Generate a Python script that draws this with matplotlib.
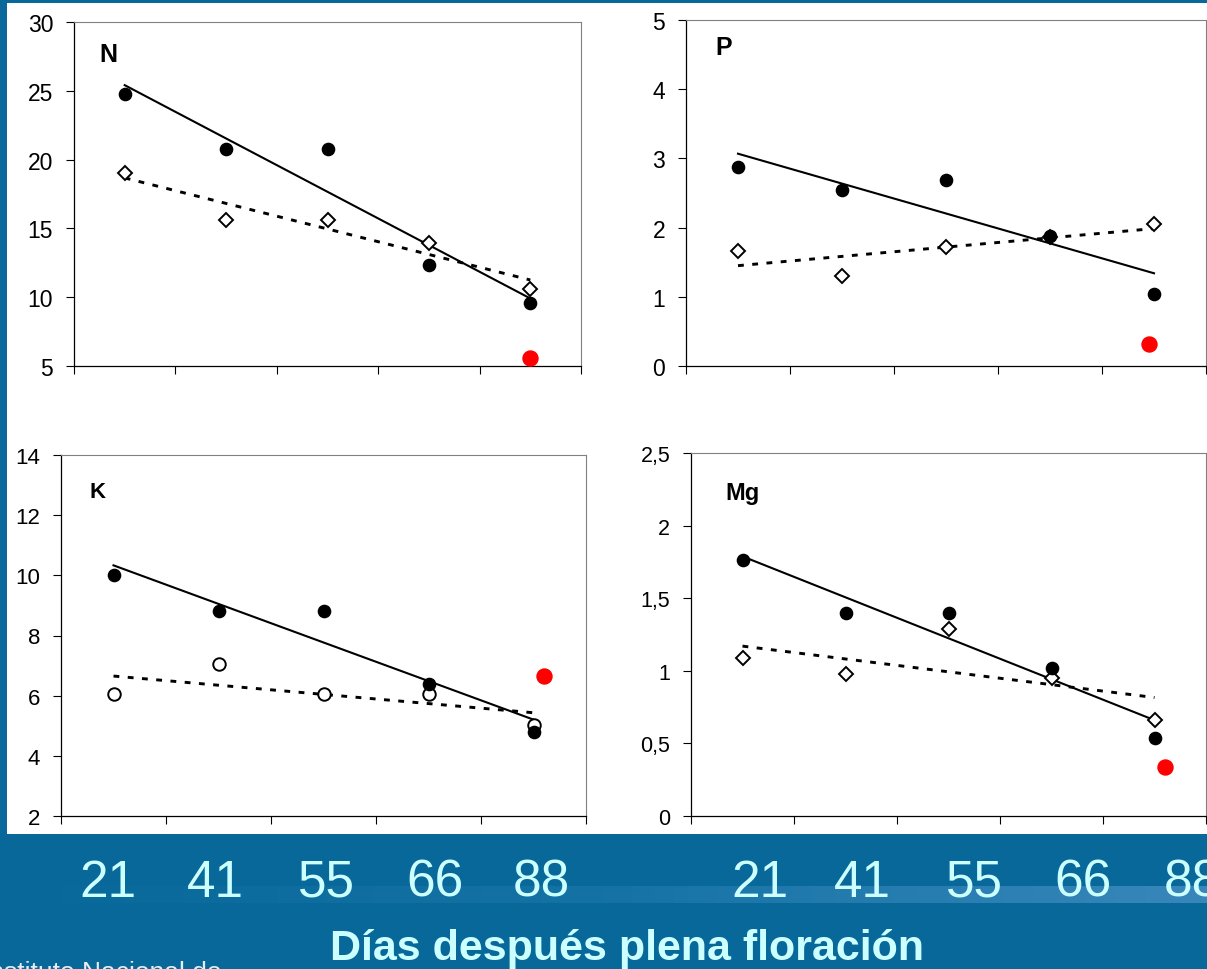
import numpy as np
import matplotlib.pyplot as plt
from matplotlib.patches import Rectangle
from matplotlib.colors import LinearSegmentedColormap
from matplotlib.ticker import FuncFormatter

plt.rcParams['font.family'] = ['Liberation Sans', 'DejaVu Sans']

# datos (5 fechas de muestreo)
dias = ['21', '41', '55', '66', '88']
titulo_x = 'Días después plena floración'

n_negro = [24.75, 20.8, 20.8, 12.35, 9.6]
n_blanco = [19.05, 15.6, 15.6, 13.95, 10.6]
n_rojo = 5.55

p_negro = [2.87, 2.54, 2.69, 1.88, 1.04]
p_blanco = [1.66, 1.30, 1.72, 1.86, 2.05]
p_rojo = 0.32

k_negro = [10.0, 8.82, 8.82, 6.4, 4.8]
k_blanco = [6.05, 7.04, 6.05, 6.05, 5.02]
k_rojo = 6.65

mg_negro = [1.76, 1.40, 1.40, 1.02, 0.54]
mg_blanco = [1.09, 0.975, 1.29, 0.95, 0.66]
mg_rojo = 0.335

rojo_x = [5.0, 4.95, 5.1, 5.1]

W, H = 1207, 970
azul = '#08689A'
cian = '#CCFFFF'

fig = plt.figure(figsize=(W / 100, H / 100), dpi=100)
fig.patch.set_facecolor(azul)

# franja clara detras de los numeros
ax_f = fig.add_axes([0, (H - 904) / H, 1, 17 / H], zorder=-2)
grad = np.linspace(0, 1, 256).reshape(1, -1)
cmap_f = LinearSegmentedColormap.from_list('franja', [azul, '#1572A5', '#3887BA'])
ax_f.imshow(grad, aspect='auto', cmap=cmap_f, extent=[0, 1, 0, 1])
ax_f.axis('off')

# fondo blanco de los graficos
fig.add_artist(Rectangle((7 / W, (H - 835) / H), 1 - 7 / W, (835 - 4) / H,
                         transform=fig.transFigure, facecolor='white',
                         edgecolor='none', zorder=-1))

fmt = FuncFormatter(lambda v, p: f'{v:g}'.replace('.', ','))
x = np.arange(1, 6)


def panel(rect, negro, blanco, marca, rx, ry, ylim, paso, etiqueta, lpos, lsize, tsize):
    ax = fig.add_axes(rect)
    ax.set_facecolor('white')
    for yy, estilo in [(negro, '-'), (blanco, 'dotted')]:
        m, b = np.polyfit(x, yy, 1)
        if estilo == '-':
            ax.plot(x, m * x + b, color='black', lw=1.5, zorder=2)
        else:
            ax.plot(x, m * x + b, color='black', lw=2.1, linestyle=(0, (2.0, 2.9)), zorder=2)
    ms = 7.6 if marca == 'D' else 9.0
    ax.plot(x, blanco, linestyle='none', marker=marca, ms=ms, mfc='white',
            mec='black', mew=1.4, zorder=3, clip_on=False)
    ax.plot(x, negro, linestyle='none', marker='o', ms=8.8, mfc='black',
            mec='black', zorder=4, clip_on=False)
    ax.plot([rx], [ry], linestyle='none', marker='o', ms=10.8, mfc='#FF0000',
            mec='#FF0000', zorder=5, clip_on=False)
    ax.set_xlim(0.5, 5.5)
    ax.set_ylim(*ylim)
    ax.set_xticks(np.arange(0.5, 6, 1))
    ax.set_yticks(np.arange(ylim[0], ylim[1] + paso / 2, paso))
    ax.yaxis.set_major_formatter(fmt)
    ax.tick_params(axis='x', direction='out', length=6, width=0.8, labelbottom=False)
    ax.tick_params(axis='y', direction='out', length=6, width=0.8, pad=9, labelsize=tsize)
    for s in ['top', 'right']:
        ax.spines[s].set_color('#808080')
        ax.spines[s].set_linewidth(0.8)
    for s in ['left', 'bottom']:
        ax.spines[s].set_color('black')
        ax.spines[s].set_linewidth(0.9)
    ax.text(lpos[0], lpos[1], etiqueta, transform=ax.transAxes, fontsize=lsize,
            fontweight='bold', ha='left', va='baseline')
    return ax


panel([74 / W, (H - 367) / H, 507 / W, 344 / H], n_negro, n_blanco, 'D',
      rojo_x[0], n_rojo, (5, 30), 5, 'N', (0.050, 0.886), 18, 16.5)
panel([686 / W, (H - 367) / H, 520 / W, 346 / H], p_negro, p_blanco, 'D',
      rojo_x[1], p_rojo, (0, 5), 1, 'P', (0.056, 0.902), 18, 16.5)
panel([61 / W, (H - 817) / H, 525 / W, 361 / H], k_negro, k_blanco, 'o',
      rojo_x[2], k_rojo, (2, 14), 2, 'K', (0.055, 0.884), 16, 16)
panel([691 / W, (H - 817) / H, 515 / W, 363 / H], mg_negro, mg_blanco, 'D',
      rojo_x[3], mg_rojo, (0, 2.5), 0.5, 'Mg', (0.066, 0.873), 17, 15.5)

# numeros de dias debajo de cada columna de graficos
pos_izq = [108, 215, 326, 435, 541]
pos_der = [760, 862, 974, 1083, 1192]
for pos in (pos_izq, pos_der):
    for px, d in zip(pos, dias):
        fig.text(px / W, (H - 897) / H, d, color=cian, fontsize=37,
                 ha='center', va='baseline')

fig.text(627 / W, (H - 960) / H, titulo_x, color=cian, fontsize=31,
         fontweight='bold', ha='center', va='baseline')

fig.text(222 / W, (H - 980) / H, 'Instituto Nacional de', color='#E4EEF4',
         fontsize=19, ha='right', va='baseline')

fig.savefig('out.png', dpi=100, facecolor=fig.get_facecolor())
